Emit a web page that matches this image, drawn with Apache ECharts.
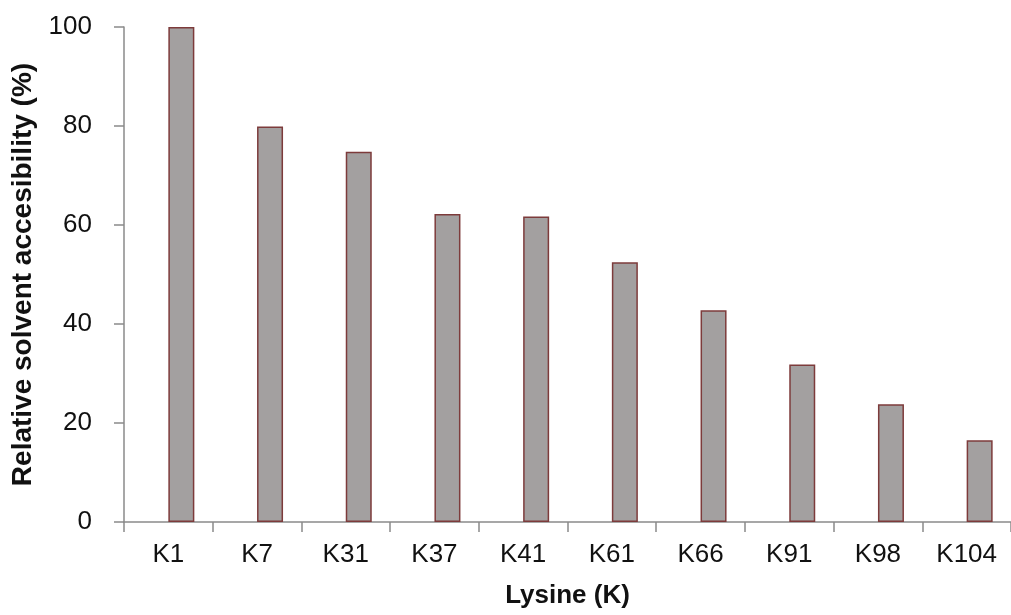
<!DOCTYPE html>
<html>
<head>
<meta charset="utf-8">
<script src="https://cdn.jsdelivr.net/npm/echarts@6/dist/echarts.min.js"></script>
<style>html,body{margin:0;padding:0;background:#fff}#c{width:1011px;height:615px}</style>
</head>
<body>
<div id="c"></div>
<script>
const categories = ['K1','K7','K31','K37','K41','K61','K66','K91','K98','K104'];
const accessibility = [100, 79.9, 74.8, 62.2, 61.7, 52.5, 42.8, 31.8, 23.8, 16.5];
const emptySeries = [null, null, null, null, null, null, null, null, null, null];
const yTicks = {min: 0, max: 100, interval: 20};

const chart = echarts.init(document.getElementById('c'), null, {renderer: 'canvas'});
const font = 'Liberation Sans, Arial, sans-serif';
chart.setOption({
  animation: false,
  backgroundColor: '#fff',
  grid: {left: 124, top: 27, right: -8.6, bottom: 93, containLabel: false},
  xAxis: {
    type: 'category',
    data: categories,
    boundaryGap: true,
    name: 'Lysine (K)',
    nameLocation: 'middle',
    nameGap: 61,
    nameTextStyle: {fontFamily: font, fontSize: 26, fontWeight: 'bold', color: '#111'},
    axisLine: {lineStyle: {color: '#8a8a8a', width: 1.5}},
    axisTick: {show: true, length: 10, lineStyle: {color: '#8a8a8a', width: 1.5}},
    axisLabel: {fontFamily: font, fontSize: 26, color: '#111', margin: 20, interval: 0},
    splitLine: {show: false}
  },
  yAxis: {
    type: 'value',
    min: yTicks.min, max: yTicks.max, interval: yTicks.interval,
    name: 'Relative solvent accesibility (%)',
    nameLocation: 'middle',
    nameGap: 77,
    nameTextStyle: {fontFamily: font, fontSize: 28, fontWeight: 'bold', color: '#111'},
    axisLine: {show: true, lineStyle: {color: '#8a8a8a', width: 1.5}},
    axisTick: {show: true, length: 10, lineStyle: {color: '#8a8a8a', width: 1.5}},
    axisLabel: {fontFamily: font, fontSize: 26, color: '#111', margin: 32},
    splitLine: {show: false}
  },
  series: [
    {type: 'bar', data: emptySeries, barWidth: 26, barGap: '0%'},
    {type: 'bar', data: accessibility, barWidth: 26, barGap: '0%',
     itemStyle: {color: '#a3a0a0', borderColor: '#7d3b3b', borderWidth: 1.5}}
  ]
});
</script>
</body>
</html>
